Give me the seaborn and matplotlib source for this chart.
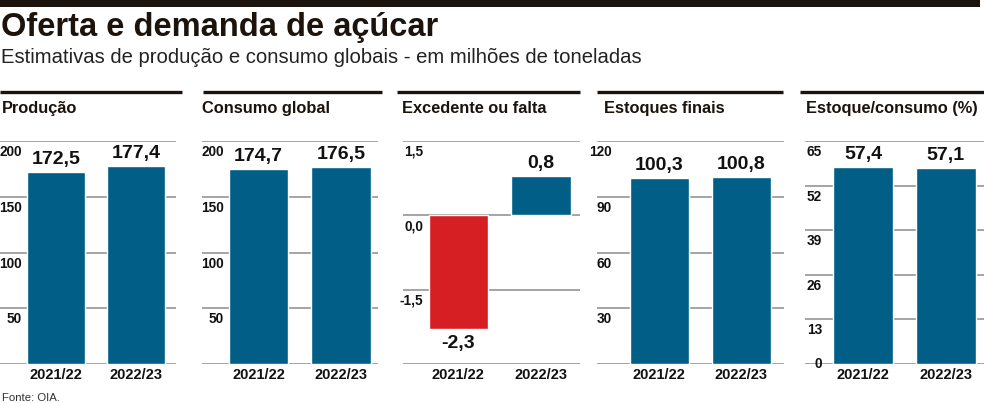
import matplotlib
matplotlib.use('Agg')
import matplotlib.pyplot as plt
import seaborn as sns
import pandas as pd
from matplotlib.transforms import blended_transform_factory, offset_copy
from matplotlib.lines import Line2D
from matplotlib.patches import Rectangle

# ---------------- data ----------------
years = ['2021/22', '2022/23']
producao = [172.5, 177.4]
consumo = [174.7, 176.5]
excedente = [-2.3, 0.8]
estoques = [100.3, 100.8]
estoque_consumo = [57.4, 57.1]

producao_labels = ['172,5', '177,4']
consumo_labels = ['174,7', '176,5']
excedente_labels = ['-2,3', '0,8']
estoques_labels = ['100,3', '100,8']
estoque_consumo_labels = ['57,4', '57,1']

panel_titles = ['Produção', 'Consumo global', 'Excedente ou falta',
                'Estoques finais', 'Estoque/consumo (%)']

grid_producao = [0, 50, 100, 150, 200]
grid_consumo = [0, 50, 100, 150, 200]
grid_excedente = [-3.0, -1.5, 0.0, 1.5]
grid_estoques = [0, 30, 60, 90, 120]
grid_estoque_consumo = [0, 13, 26, 39, 52, 65]

tick_producao = [50, 100, 150, 200]
tick_producao_labels = ['50', '100', '150', '200']
tick_consumo = [50, 100, 150, 200]
tick_consumo_labels = ['50', '100', '150', '200']
tick_excedente = [-1.5, 0.0, 1.5]
tick_excedente_labels = ['-1,5', '0,0', '1,5']
tick_estoques = [30, 60, 90, 120]
tick_estoques_labels = ['30', '60', '90', '120']
tick_estoque_consumo = [0, 13, 26, 39, 52, 65]
tick_estoque_consumo_labels = ['0', '13', '26', '39', '52', '65']

title = 'Oferta e demanda de açúcar'
subtitle = 'Estimativas de produção e consumo globais - em milhões de toneladas'
source = 'Fonte: OIA.'

# ---------------- style ----------------
sns.set_style('white')
plt.rcParams['font.family'] = ['Liberation Sans', 'DejaVu Sans']

BLUE = '#005e87'
RED = '#d61f23'
GRID = '#8c8c8c'
DARK = '#1b130c'

W, H = 984, 403
fig = plt.figure(figsize=(W / 100, H / 100), dpi=100)
fig.patch.set_facecolor('white')

def fx(px):
    return px / W

def fy(py):
    return 1 - py / H

# top bar
fig.patches.append(Rectangle((0, fy(7)), fx(980), 7 / H, transform=fig.transFigure,
                             facecolor=DARK, edgecolor='none'))
fig.text(fx(1), fy(36), title, fontsize=23.5, fontweight='heavy', color=DARK,
         ha='left', va='baseline')
fig.text(fx(1), fy(63), subtitle, fontsize=14.6, color='#222222',
         ha='left', va='baseline')
fig.text(fx(2), fy(401), source, fontsize=8.2, color='#333333',
         ha='left', va='baseline')

panels = [
    dict(vals=producao, labs=producao_labels, grid=grid_producao, ticks=tick_producao,
         tlabs=tick_producao_labels, ax=(0, 176), xlim=(-0.70, 1.50), head=(0, 182), tx=2, lx=22),
    dict(vals=consumo, labs=consumo_labels, grid=grid_consumo, ticks=tick_consumo,
         tlabs=tick_consumo_labels, ax=(202, 378), xlim=(-0.685, 1.45), head=(203, 382), tx=202, lx=22),
    dict(vals=excedente, labs=excedente_labels, grid=grid_excedente, ticks=tick_excedente,
         tlabs=tick_excedente_labels, ax=(403, 580), xlim=(-0.67, 1.47), head=(397, 580), tx=402, lx=20),
    dict(vals=estoques, labs=estoques_labels, grid=grid_estoques, ticks=tick_estoques,
         tlabs=tick_estoques_labels, ax=(597, 784), xlim=(-0.76, 1.52), head=(597, 783), tx=604, lx=15),
    dict(vals=estoque_consumo, labs=estoque_consumo_labels, grid=grid_estoque_consumo,
         ticks=tick_estoque_consumo, tlabs=tick_estoque_consumo_labels, ax=(805, 984),
         xlim=(-0.70, 1.46), head=(800, 984), tx=806, lx=17),
]

AX_TOP, AX_BOT = 141, 364

for p, ptitle in zip(panels, panel_titles):
    l, r = p['ax']
    ax = fig.add_axes([fx(l), fy(AX_BOT), fx(r - l), (AX_BOT - AX_TOP) / H])
    df = pd.DataFrame({'ano': years, 'valor': p['vals']})
    colors = [RED if v < 0 else BLUE for v in p['vals']]
    sns.barplot(data=df, x='ano', y='valor', hue='ano', palette=colors, legend=False,
                width=0.72, saturation=1, ax=ax, zorder=3)
    ax.set_xlim(*p['xlim'])
    ax.set_ylim(min(p['grid']), max(p['grid']))
    ax.set_yticks(p['grid'])
    ax.set_yticklabels([])
    ax.tick_params(axis='y', length=0)
    ax.yaxis.grid(True, color=GRID, linewidth=1.1)
    ax.set_axisbelow(True)
    for s in ax.spines.values():
        s.set_visible(False)
    ax.set_xlabel('')
    ax.set_ylabel('')
    ax.tick_params(axis='x', length=0, pad=3)
    for t in ax.get_xticklabels():
        t.set_fontweight('bold')
        t.set_fontsize(10.5)
        t.set_color('#111111')
    # y tick labels inside the axis, below each gridline
    bt = blended_transform_factory(ax.transAxes, ax.transData)
    for v, s in zip(p['ticks'], p['tlabs']):
        if v == min(p['grid']):
            trans = offset_copy(bt, fig=fig, x=0, y=0, units='dots')
            va = 'center'
        else:
            trans = offset_copy(bt, fig=fig, x=0, y=-4, units='dots')
            va = 'top'
        ax.text(p['lx'] / (r - l), v, s, transform=trans, ha='right', va=va,
                fontsize=9.8, fontweight='bold', color='#111111', zorder=5)
    # value labels
    for i, (v, s) in enumerate(zip(p['vals'], p['labs'])):
        if v >= 0:
            trans = offset_copy(ax.transData, fig=fig, x=0, y=4, units='dots')
            va = 'bottom'
        else:
            trans = offset_copy(ax.transData, fig=fig, x=0, y=-6, units='dots')
            va = 'top'
        ax.text(i, v, s, transform=trans, ha='center', va=va, fontsize=14,
                fontweight='bold', color='#111111', zorder=5)
    # header line and panel title
    hl, hr = p['head']
    fig.lines.append(Line2D([fx(hl), fx(hr)], [fy(92), fy(92)], transform=fig.transFigure,
                            color=DARK, linewidth=2.4, solid_capstyle='butt'))
    fig.text(fx(p['tx']), fy(113), ptitle, fontsize=11.8, fontweight='bold', color=DARK,
             ha='left', va='baseline')

fig.savefig('out.png', dpi=100, facecolor='white')
